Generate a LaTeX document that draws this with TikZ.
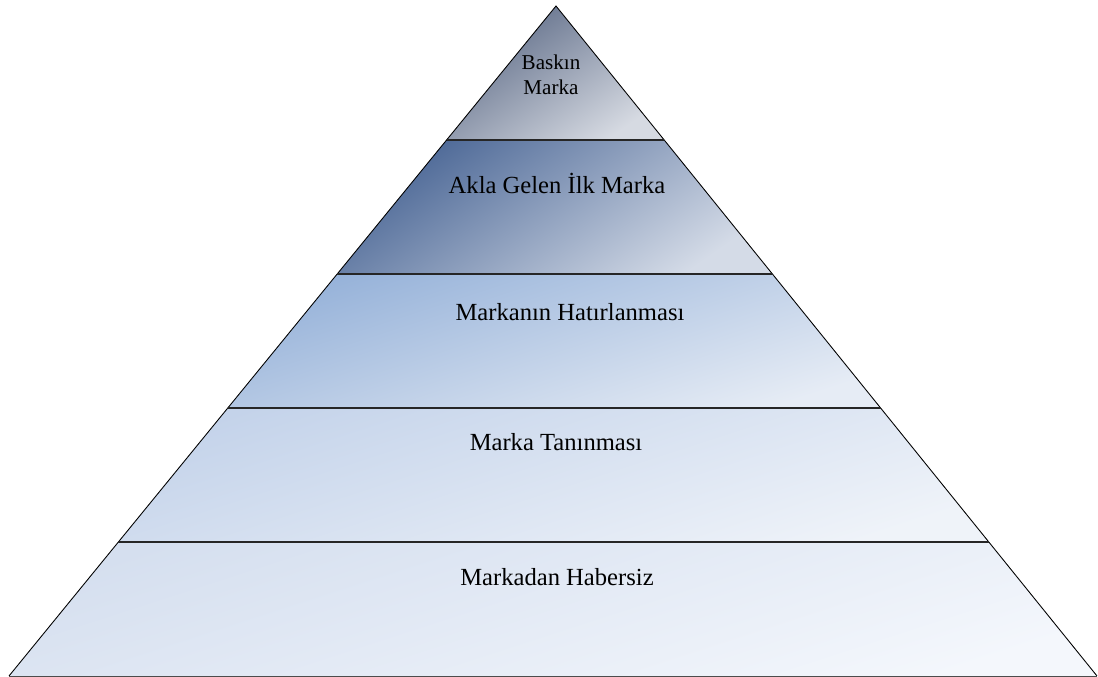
\documentclass[tikz,border=0pt]{standalone}
\usepackage{fontspec}
\setmainfont{Liberation Serif}
\usetikzlibrary{calc}
\definecolor{bandOneA}{HTML}{5C6A86}
\definecolor{bandOneB}{HTML}{D6DAE2}
\definecolor{bandTwoA}{HTML}{4A6695}
\definecolor{bandTwoB}{HTML}{D4DBE7}
\definecolor{bandThreeA}{HTML}{96B2D9}
\definecolor{bandThreeB}{HTML}{E6ECF5}
\definecolor{bandFourA}{HTML}{C4D3EA}
\definecolor{bandFourB}{HTML}{EFF3F9}
\definecolor{bandFiveA}{HTML}{D5DFEF}
\definecolor{bandFiveB}{HTML}{F4F7FC}

\begin{document}
\begin{tikzpicture}[x=0.2mm,y=0.2mm,font=\fontsize{14}{16}\selectfont,
  band/.style={shading=axis,shading angle=35},
  wideband/.style={shading=axis,shading angle=18},
  edge/.style={line width=0.5pt},
  divider/.style={line width=1.2pt,black!85},
  label/.style={align=center,inner sep=1pt}]
\useasboundingbox (0,0) rectangle (1098,677);
\coordinate (A) at (556,671);
\coordinate (L) at (9,1);
\coordinate (R) at (1097,1);
\coordinate (l1) at ($(A)!0.2!(L)$);
\coordinate (r1) at ($(A)!0.2!(R)$);
\coordinate (l2) at ($(A)!0.4!(L)$);
\coordinate (r2) at ($(A)!0.4!(R)$);
\coordinate (l3) at ($(A)!0.6!(L)$);
\coordinate (r3) at ($(A)!0.6!(R)$);
\coordinate (l4) at ($(A)!0.8!(L)$);
\coordinate (r4) at ($(A)!0.8!(R)$);
\path[top color=bandOneA,bottom color=bandOneB,band] (A) -- (r1) -- (l1) -- cycle;
\path[top color=bandTwoA,bottom color=bandTwoB,band] (l1) -- (r1) -- (r2) -- (l2) -- cycle;
\path[top color=bandThreeA,bottom color=bandThreeB,wideband] (l2) -- (r2) -- (r3) -- (l3) -- cycle;
\path[top color=bandFourA,bottom color=bandFourB,wideband] (l3) -- (r3) -- (r4) -- (l4) -- cycle;
\path[top color=bandFiveA,bottom color=bandFiveB,wideband] (l4) -- (r4) -- (R) -- (L) -- cycle;
\draw[edge] (L) -- (A) -- (R);
\draw[edge,black!70] (L) -- (R);
\draw[divider] (l1) -- (r1);
\draw[divider] (l2) -- (r2);
\draw[divider] (l3) -- (r3);
\draw[divider] (l4) -- (r4);
\node[label,font=\fontsize{12}{14}\selectfont] (baskin) at (551,602) {Baskın\\Marka};
\node[label] (akla) at (557,494) {Akla Gelen İlk Marka};
\node[label] (hatir) at (570,365) {Markanın Hatırlanması};
\node[label] (tanin) at (556,235) {Marka Tanınması};
\node[label] (habersiz) at (557,100) {Markadan Habersiz};
\end{tikzpicture}
\end{document}
